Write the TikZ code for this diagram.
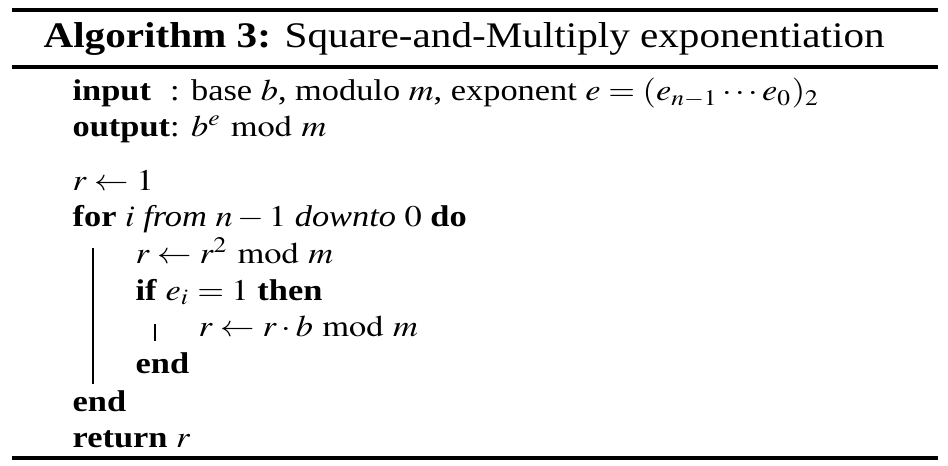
\documentclass[tikz,border=0pt]{standalone}
\usepackage{mathptmx}
\usepackage[no-math]{fontspec}
\usepackage{calc}
\setmainfont{Liberation Serif}
\usetikzlibrary{positioning}
\tikzset{%
  rule/.style={line width=1.1pt},
  bar/.style={line width=.45pt},
  title/.style={anchor=base west,inner sep=0pt,xscale=1.143,transform shape,font=\fontsize{12}{14}\selectfont},
  line/.style={anchor=base west,inner sep=0pt,xscale=1.146,transform shape,font=\fontsize{10}{12}\selectfont}
}
\newcommand{\kw}[1]{\textbf{#1}}

\begin{document}
\begin{tikzpicture}[x=1pt,y=1pt]
  \useasboundingbox (0,0) rectangle (316,-155.33);

  % rules
  \draw[rule] (4,-3.3) -- (312.7,-3.3);
  \draw[rule] (4,-22.3) -- (312.7,-22.3);
  \draw[rule] (4,-152.7) -- (312.7,-152.7);

  \node[title] (head) at (14.3,-16) {\kw{Algorithm 3:} Square-and-Multiply exponentiation};

  \node[line] (in) at (24,-33.6)
    {\makebox[\widthof{\kw{output}}][l]{\kw{input}}: base $b$, modulo $m$, exponent $e=(e_{n-1}\cdots e_0)_2$};
  \node[line,below=12pt of in.base west,anchor=base west] (out) {\kw{output}: $b^e \bmod m$};

  \node[line,below=18pt of out.base west,anchor=base west] (init) {$r\leftarrow 1$};
  \node[line,below=12pt of init.base west,anchor=base west] (forl) {\kw{for} $i$ \textit{from} $n-1$ \textit{downto} $0$ \kw{do}};
  \node[line,below right=12.3pt and 21pt of forl.base west,anchor=base west] (sq) {$r\leftarrow r^2 \bmod m$};
  \node[line,below=12.2pt of sq.base west,anchor=base west] (ifl) {\kw{if} $e_i=1$ \kw{then}};
  \node[line,below right=12pt and 21pt of ifl.base west,anchor=base west] (mul) {$r\leftarrow r\cdot b \bmod m$};
  \node[line,below left=12.5pt and 21pt of mul.base west,anchor=base west] (endif) {\kw{end}};
  \node[line,below left=12.5pt and 21pt of endif.base west,anchor=base west] (endfor) {\kw{end}};
  \node[line,below=12pt of endfor.base west,anchor=base west] (ret) {\kw{return} $r$};

  % block bars
  \draw[bar] ([xshift=7pt,yshift=-7pt]forl.base west) -- ([xshift=7pt,yshift=9pt]endfor.base west);
  \draw[bar] ([xshift=-14.3pt,yshift=4pt]mul.base west) -- ([xshift=-14.3pt,yshift=-1.5pt]mul.base west);
\end{tikzpicture}
\end{document}
